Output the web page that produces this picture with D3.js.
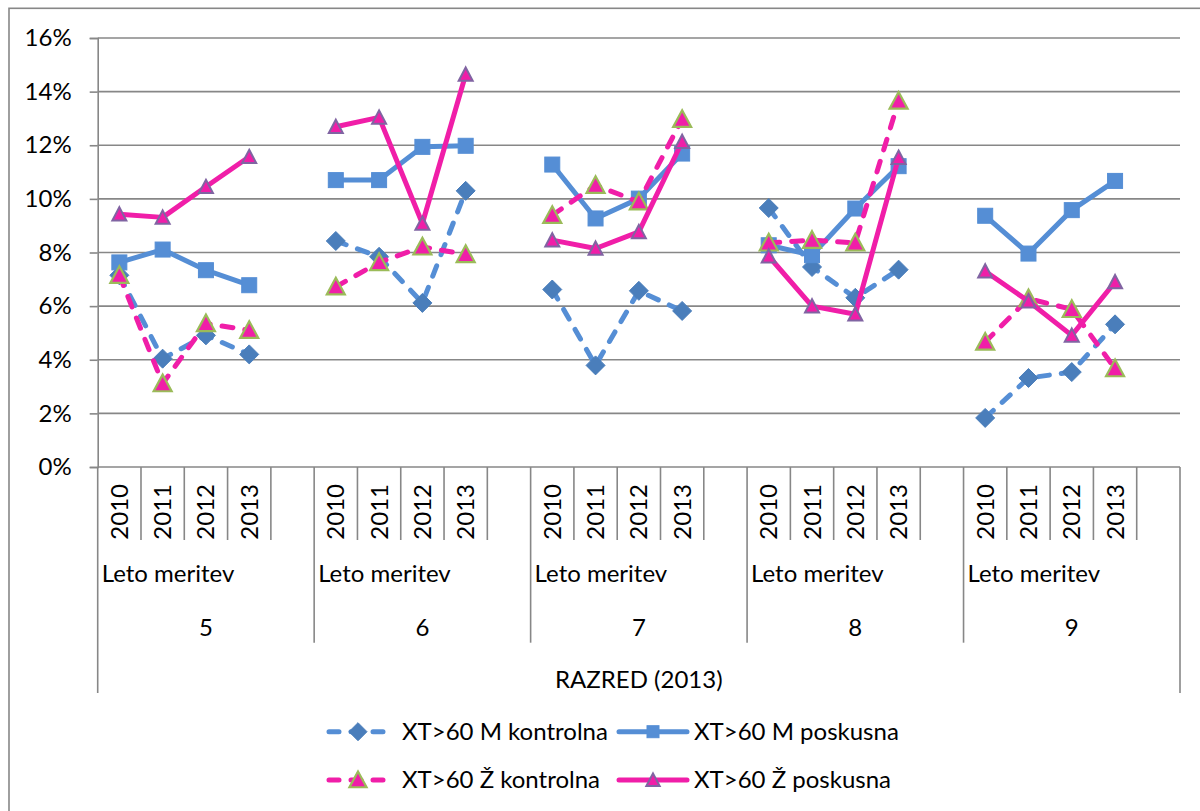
<!DOCTYPE html>
<html>
<head>
<meta charset="utf-8">
<script src="https://cdn.jsdelivr.net/npm/d3@7"></script>
<style>
  html, body { margin: 0; padding: 0; background: #fff; }
  svg { display: block; }
  text { font-family: Lato, "Open Sans", sans-serif; fill: #000; }
</style>
</head>
<body>
<svg id="chart" width="1200" height="811"></svg>
<script>
// Grades (RAZRED) and measurement years within each grade
const grades = ["5", "6", "7", "8", "9"];
const years = ["2010", "2011", "2012", "2013"];
const yTicks = [0, 0.02, 0.04, 0.06, 0.08, 0.10, 0.12, 0.14, 0.16];

// Share of pupils with XT > 60, grade-major (5: 2010..2013, 6: 2010..2013, ...)
const mKontrolna = [
  0.0715, 0.0404, 0.0491, 0.0420,
  0.0843, 0.0784, 0.0612, 0.1030,
  0.0662, 0.0379, 0.0657, 0.0582,
  0.0966, 0.0746, 0.0631, 0.0736,
  0.0183, 0.0332, 0.0354, 0.0532
];
const mPoskusna = [
  0.0763, 0.0811, 0.0734, 0.0678,
  0.1070, 0.1070, 0.1194, 0.1198,
  0.1128, 0.0927, 0.1001, 0.1169,
  0.0827, 0.0790, 0.0964, 0.1122,
  0.0937, 0.0796, 0.0958, 0.1067
];
const zKontrolna = [
  0.0715, 0.0311, 0.0535, 0.0510,
  0.0672, 0.0763, 0.0821, 0.0793,
  0.0939, 0.1051, 0.0989, 0.1297,
  0.0836, 0.0846, 0.0836, 0.1365,
  0.0466, 0.0628, 0.0588, 0.0367
];
const zPoskusna = [
  0.0943, 0.0931, 0.1045, 0.1157,
  0.1269, 0.1304, 0.0908, 0.1464,
  0.0846, 0.0815, 0.0877, 0.1213,
  0.0786, 0.0600, 0.0570, 0.1154,
  0.0730, 0.0618, 0.0491, 0.0690
];

const seriesNames = ["XT>60 M kontrolna", "XT>60 M poskusna", "XT>60 Ž kontrolna", "XT>60 Ž poskusna"];

const BLUE = "#558ED5", BLUE_DARK = "#4A7EBB", PINK = "#F01EA8", GREEN = "#9BBB59", PURPLE = "#8064A2", GRID = "#878787";
const FONT = 24;

const series = [
  { name: seriesNames[0], values: mKontrolna, color: BLUE, dashed: true,  marker: "diamond" },
  { name: seriesNames[1], values: mPoskusna,  color: BLUE, dashed: false, marker: "square" },
  { name: seriesNames[2], values: zKontrolna, color: PINK, dashed: true,  marker: "triGreen" },
  { name: seriesNames[3], values: zPoskusna,  color: PINK, dashed: false, marker: "triPurple" }
];

const svg = d3.select("#chart");
const plot = { left: 97.7, right: 1180, top: 38, bottom: 467 };

// Each grade occupies four year slots plus one empty slot
const slots = [];
grades.forEach(g => { years.forEach(y => slots.push(g + "|" + y)); slots.push(g + "|gap"); });

const x = d3.scaleBand().domain(slots).range([plot.left, plot.right]).padding(0);
const y = d3.scaleLinear().domain([0, 0.16]).range([plot.bottom, plot.top]);
const bw = x.bandwidth();

// Outer chart frame
svg.append("rect").attr("x", 9).attr("y", 8.3).attr("width", 1300).attr("height", 900)
  .attr("fill", "none").attr("stroke", GRID).attr("stroke-width", 1.6);

// Horizontal gridlines
svg.append("g").selectAll("line").data(yTicks.slice(1)).join("line")
  .attr("x1", plot.left).attr("x2", plot.right)
  .attr("y1", d => y(d)).attr("y2", d => y(d))
  .attr("stroke", GRID).attr("stroke-width", 1.6);

// Value axis
const yAxis = svg.append("g").attr("transform", `translate(${plot.left},0)`)
  .call(d3.axisLeft(y).tickValues(yTicks).tickFormat(d3.format(".0%")).tickSize(8).tickPadding(18));
yAxis.select(".domain").attr("stroke", GRID).attr("stroke-width", 1.6);
yAxis.selectAll(".tick line").attr("stroke", GRID).attr("stroke-width", 1.6);
yAxis.selectAll(".tick text").attr("font-size", FONT).attr("font-family", "Lato").attr("fill", "#000");

// Category axis baseline
svg.append("line").attr("x1", plot.left).attr("x2", plot.right)
  .attr("y1", plot.bottom).attr("y2", plot.bottom)
  .attr("stroke", GRID).attr("stroke-width", 1.6);

// Multi-level category separators
const rowYear = 540, rowGrade = 642.7, rowOuter = 693;
const boundaries = d3.range(slots.length + 1).map(i => i < slots.length ? x(slots[i]) : plot.right);
const sep = svg.append("g").attr("stroke", GRID).attr("stroke-width", 1.6);
boundaries.forEach((bx, i) => {
  let y2 = rowYear;
  if (i % 5 === 0) y2 = rowGrade;
  if (i === 0 || i === slots.length) y2 = rowOuter;
  sep.append("line").attr("x1", bx).attr("x2", bx).attr("y1", plot.bottom).attr("y2", y2);
});

// Year labels (rotated)
grades.forEach(g => years.forEach(yr => {
  const cx = x(g + "|" + yr) + bw / 2;
  svg.append("text").text(yr)
    .attr("transform", `translate(${cx + 8.5},484) rotate(-90)`)
    .attr("text-anchor", "end").attr("font-size", FONT);
}));

// "Leto meritev" and grade labels
grades.forEach(g => {
  const gx = x(g + "|2010");
  svg.append("text").text("Leto meritev").attr("x", gx + 4).attr("y", 582).attr("font-size", FONT);
  svg.append("text").text(g).attr("x", gx + bw * 2.5).attr("y", 636)
    .attr("text-anchor", "middle").attr("font-size", FONT);
});
svg.append("text").text("RAZRED (2013)")
  .attr("x", (plot.left + plot.right) / 2).attr("y", 688)
  .attr("text-anchor", "middle").attr("font-size", FONT);

// Marker drawing
function drawMarker(sel, type, cx, cy, scale) {
  const s = scale || 1;
  if (type === "diamond") {
    const r = 9.5 * s;
    sel.append("path").attr("d", `M${cx},${cy - r}L${cx + r},${cy}L${cx},${cy + r}L${cx - r},${cy}Z`)
      .attr("fill", BLUE_DARK).attr("stroke", BLUE_DARK).attr("stroke-width", 1);
  } else if (type === "square") {
    const h = 7.5 * s;
    sel.append("rect").attr("x", cx - h).attr("y", cy - h).attr("width", 2 * h).attr("height", 2 * h)
      .attr("fill", BLUE).attr("stroke", BLUE).attr("stroke-width", 1);
  } else if (type === "triGreen") {
    const w = 9 * s;
    sel.append("path").attr("d", `M${cx},${cy - w}L${cx + w},${cy + w * 0.85}L${cx - w},${cy + w * 0.85}Z`)
      .attr("fill", PINK).attr("stroke", GREEN).attr("stroke-width", 2.2).attr("stroke-linejoin", "miter");
  } else {
    const w = 7 * s;
    sel.append("path").attr("d", `M${cx},${cy - w}L${cx + w},${cy + w * 0.9}L${cx - w},${cy + w * 0.9}Z`)
      .attr("fill", PINK).attr("stroke", PURPLE).attr("stroke-width", 2);
  }
}

// Series lines and markers, one segment per grade
const line = d3.line().x(d => d.x).y(d => d.y);
series.forEach(s => {
  const g = svg.append("g");
  grades.forEach((gr, gi) => {
    const pts = years.map((yr, yi) => ({ x: x(gr + "|" + yr) + bw / 2, y: y(s.values[gi * 4 + yi]) }));
    g.append("path").attr("d", line(pts)).attr("fill", "none")
      .attr("stroke", s.color).attr("stroke-width", 5)
      .attr("stroke-linecap", "round").attr("stroke-linejoin", "round")
      .attr("stroke-dasharray", s.dashed ? "11 12" : null);
    pts.forEach(p => drawMarker(g, s.marker, p.x, p.y));
  });
});

// Legend
const legendPos = [
  { lx1: 329, lx2: 387, tx: 402, ty: 731.7 },
  { lx1: 619, lx2: 687, tx: 694, ty: 731.7 },
  { lx1: 329, lx2: 387, tx: 402, ty: 780 },
  { lx1: 619, lx2: 687, tx: 694, ty: 780 }
];
series.forEach((s, i) => {
  const p = legendPos[i];
  const lg = svg.append("g");
  lg.append("line").attr("x1", p.lx1).attr("x2", p.lx2).attr("y1", p.ty).attr("y2", p.ty)
    .attr("stroke", s.color).attr("stroke-width", 5).attr("stroke-linecap", "round")
    .attr("stroke-dasharray", s.dashed ? "10 12" : null);
  drawMarker(lg, s.marker, (p.lx1 + p.lx2) / 2, p.ty, s.marker === "square" ? 0.8 : 0.95);
  lg.append("text").text(s.name).attr("x", p.tx).attr("y", p.ty).attr("dy", "0.35em").attr("font-size", FONT);
});
</script>
</body>
</html>
